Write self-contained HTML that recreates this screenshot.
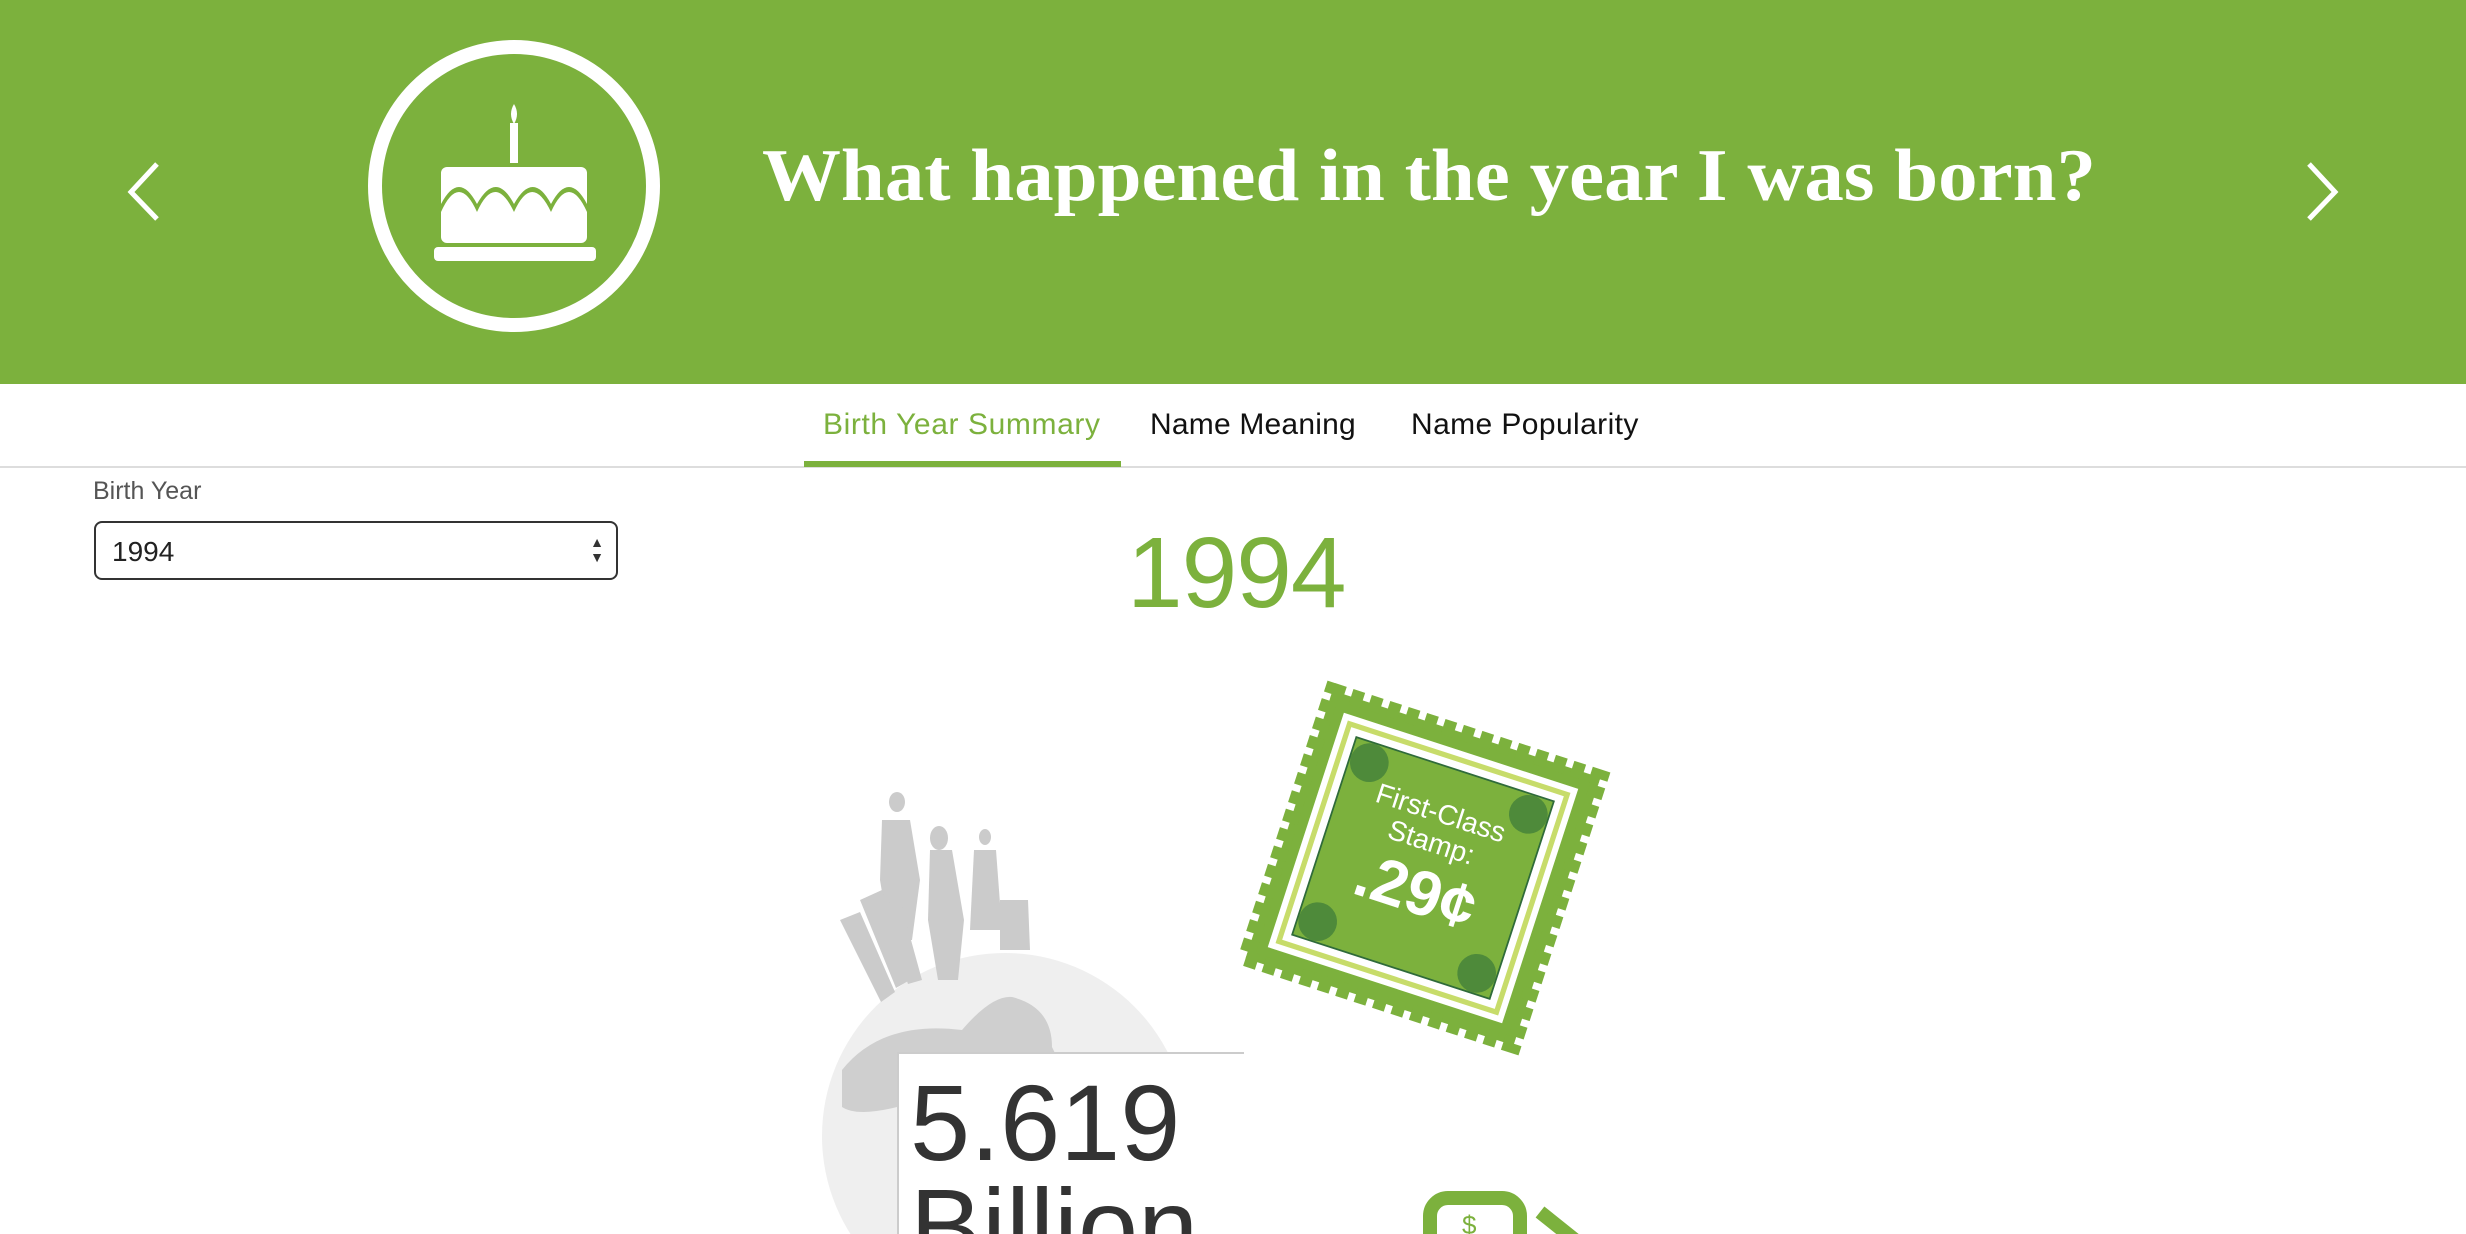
<!DOCTYPE html>
<html><head><meta charset="utf-8"><style>
*{margin:0;padding:0;box-sizing:border-box}
html,body{width:2466px;height:1234px;overflow:hidden}
body{background:#fff;position:relative;font-family:"Liberation Sans",sans-serif}
.abs{position:absolute}
</style></head><body>
<div class="abs" style="left:0;top:0;width:2466px;height:384px;background:#7cb13d"></div>
<svg class="abs" style="left:0;top:0" width="2466" height="384">
 <polyline points="157,164 131,192 157,219" fill="none" stroke="#fff" stroke-width="5"/>
 <polyline points="2309,164 2335,192 2309,219" fill="none" stroke="#fff" stroke-width="5"/>
 <g>
 <circle cx="514" cy="186" r="139" fill="none" stroke="#fff" stroke-width="14"/>
 <path d="M514,104 q-6,10 0,20 q6,-10 0,-20z" fill="#fff"/>
 <rect x="510" y="123" width="8" height="40" fill="#fff"/>
 <rect x="441" y="167" width="146" height="76" rx="6" fill="#fff"/>
 <path d="M441,212 q18,-40 36,0 q18,-40 37,0 q18,-40 37,0 q18,-40 36,0 v-8 q-18,-34 -36,0 q-18,-34 -37,0 q-18,-34 -37,0 q-18,-34 -36,0z" fill="#7cb13d"/>
 <rect x="434" y="247" width="162" height="14" rx="4" fill="#fff"/>
 </g>
 <text x="762" y="200" fill="#fff" font-family="Liberation Serif,serif" font-weight="bold" font-size="74" textLength="1334" lengthAdjust="spacingAndGlyphs">What happened in the year I was born?</text>
</svg>
<div class="abs" style="left:0;top:466px;width:2466px;height:2px;background:#ddd"></div>
<div class="abs" style="left:823px;top:408px;font-size:30px;letter-spacing:0.6px;color:#7cb13d">Birth Year Summary</div>
<div class="abs" style="left:804px;top:461px;width:317px;height:6px;background:#7cb13d"></div>
<div class="abs" style="left:1150px;top:408px;font-size:30px;letter-spacing:0.2px;color:#111">Name Meaning</div>
<div class="abs" style="left:1411px;top:408px;font-size:30px;letter-spacing:0.4px;color:#111">Name Popularity</div>
<div class="abs" style="left:93px;top:477px;font-size:25px;color:#555">Birth Year</div>
<div class="abs" style="left:94px;top:521px;width:524px;height:59px;border:2px solid #333;border-radius:8px;font-size:28px;color:#222;padding:13px 0 0 16px">1994
 <span class="abs" style="right:12px;top:12px;font-size:14px;line-height:15px;color:#333">▲<br>▼</span></div>
<div class="abs" style="left:1127px;top:516px;font-size:100px;color:#7cb13d;letter-spacing:-1px">1994</div>
<svg class="abs" style="left:0;top:0" width="2466" height="1234">
 <circle cx="1005" cy="1136" r="183" fill="#efefef"/>
 <path d="M842,1070 q40,-50 120,-40 q30,-35 50,-33 q40,10 40,50 q20,40 15,60 l-170,0 q-40,10 -55,0z" fill="#cfcfcf"/>
 <g fill="#cbcbcb">
  <ellipse cx="897" cy="802" rx="8" ry="10"/><path d="M882,820 h28 l10,60 -8,60 h-22 l-10,-60z"/>
  <ellipse cx="939" cy="838" rx="9" ry="12"/><path d="M930,850 h22 l12,70 -6,60 h-20 l-10,-60z"/>
  <ellipse cx="985" cy="837" rx="6" ry="8"/><path d="M974,850 h22 l6,80 h-32z"/>
  <path d="M860,900 l22,-10 28,90 -14,8z M840,920 l20,-8 35,80 -14,10z M880,905 l20,-5 22,80 -14,4z"/>
  <path d="M1000,900 h28 l2,50 h-30z"/>
 </g>
 <rect x="897" y="1052" width="347" height="200" fill="#fff"/>
 <line x1="897" y1="1053" x2="1244" y2="1053" stroke="#ccc" stroke-width="2"/>
 <line x1="898" y1="1052" x2="898" y2="1234" stroke="#ccc" stroke-width="2"/>
 <text x="910" y="1160" font-size="108" fill="#333" font-family="Liberation Sans,sans-serif">5.619</text>
 <text x="910" y="1264" font-size="108" fill="#333" font-family="Liberation Sans,sans-serif">Billion</text>
 <g transform="translate(1423,868) rotate(18) scale(0.88)">
  <rect x="-160" y="-160" width="320" height="320" fill="#7cb13d" stroke="#7cb13d" stroke-width="18" stroke-dasharray="14 8"/>
  <rect x="-140" y="-140" width="280" height="280" fill="#fff"/>
  <rect x="-130" y="-130" width="260" height="260" fill="none" stroke="#c7dc6a" stroke-width="6"/>
  <rect x="-118" y="-118" width="236" height="236" fill="#7cb13d" stroke="#2f6b3a" stroke-width="2"/>
  <g fill="#4e8a3a"><circle cx="-95" cy="-95" r="22"/><circle cx="95" cy="-95" r="22"/><circle cx="-95" cy="95" r="22"/><circle cx="95" cy="95" r="22"/></g>
  <text x="0" y="-55" fill="#fff" font-size="32" text-anchor="middle">First-Class</text>
  <text x="0" y="-20" fill="#fff" font-size="32" text-anchor="middle">Stamp:</text>
  <text x="0" y="52" fill="#fff" font-size="72" font-weight="bold" text-anchor="middle">.29¢</text>
 </g>
 <g>
  <rect x="1430" y="1198" width="90" height="80" rx="18" fill="none" stroke="#7cb13d" stroke-width="14"/>
  <line x1="1540" y1="1212" x2="1575" y2="1240" stroke="#7cb13d" stroke-width="14"/>
  <text x="1462" y="1234" fill="#7cb13d" font-size="26">$</text>
 </g>
</svg>
</body></html>
